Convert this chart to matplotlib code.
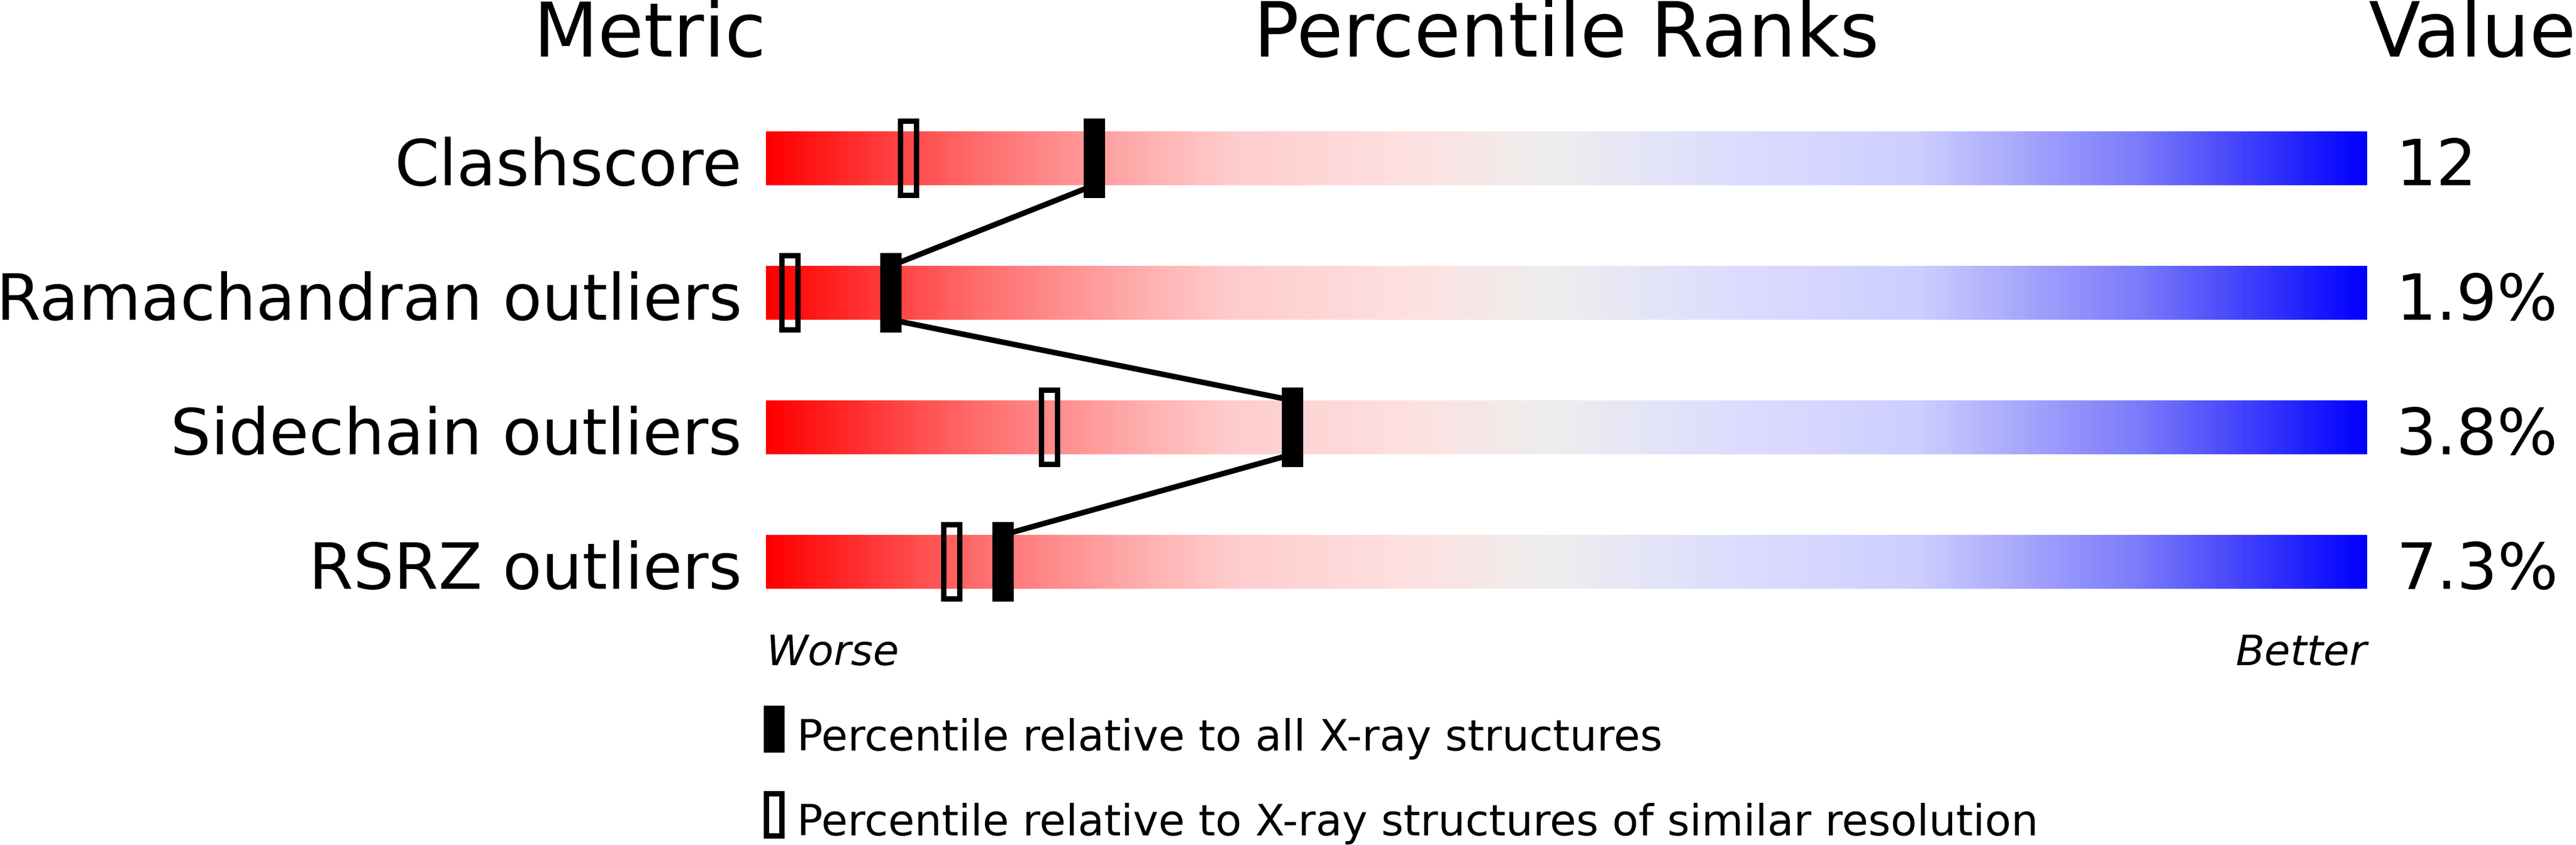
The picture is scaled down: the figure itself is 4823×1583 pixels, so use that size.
import numpy as np
import matplotlib
matplotlib.use("Agg")
import matplotlib.pyplot as plt
from matplotlib.colors import LinearSegmentedColormap
from matplotlib.patches import Rectangle

# 数据
metrics = ["Clashscore", "Ramachandran outliers", "Sidechain outliers", "RSRZ outliers"]
values = ["12", "1.9%", "3.8%", "7.3%"]
pct_all = [20.5, 7.8, 32.9, 14.8]      # 相对所有 X-ray 结构
pct_res = [8.9, 1.5, 17.7, 11.6]       # 相对相似分辨率结构

# 红 -> 灰 -> 蓝 渐变
stops = [
    (0.00, (255, 0, 0)),
    (0.135, (255, 112, 112)),
    (0.237, (255, 176, 176)),
    (0.29, (255, 204, 204)),
    (0.40, (254, 224, 224)),
    (0.49, (238, 238, 238)),
    (0.60, (221, 221, 255)),
    (0.72, (206, 206, 255)),
    (0.86, (122, 122, 250)),
    (1.00, (0, 0, 255)),
]
cmap = LinearSegmentedColormap.from_list(
    "slider", [(p, tuple(c / 255 for c in rgb)) for p, rgb in stops])

W, H = 4823, 1583
fig = plt.figure(figsize=(W / 100, H / 100), dpi=100)
ax = fig.add_axes([1434 / W, 1 - 1178.5 / H, 2998 / W, 1008 / H])
ax.set_xlim(0, 100)
ax.set_ylim(3.5, -0.5)
ax.axis("off")

grad = np.linspace(0, 1, 1024).reshape(1, -1)
bar_h = 0.4
mk_h = 0.595
mk_w = 1.33

for i in range(len(metrics)):
    ax.imshow(grad, cmap=cmap, aspect="auto", interpolation="bilinear",
              extent=(0, 100, i + bar_h / 2, i - bar_h / 2), zorder=1)

# 连接线
rows = np.arange(len(metrics))
for i in range(len(metrics) - 1):
    ax.plot([pct_all[i], pct_all[i + 1]], [rows[i] + bar_h / 2, rows[i + 1] - bar_h / 2],
            color="black", lw=7.5, solid_capstyle="butt", zorder=2)

for i in range(len(metrics)):
    ax.add_patch(Rectangle((pct_all[i] - mk_w / 2, i - mk_h / 2), mk_w, mk_h,
                           facecolor="black", edgecolor="none", zorder=4))
    ax.add_patch(Rectangle((pct_res[i] - (mk_w - 0.33) / 2, i - (mk_h - 0.04) / 2),
                           mk_w - 0.33, mk_h - 0.04, facecolor="none",
                           edgecolor="black", lw=7.2, zorder=3))
    ax.text(-1.5, i + bar_h / 2, metrics[i], ha="right", va="baseline",
            fontsize=86.3, clip_on=False)
    ax.text(101.8, i + bar_h / 2, values[i], ha="left", va="baseline",
            fontsize=86, clip_on=False)

# 表头
ax.text(0, -0.754, "Metric", ha="right", va="baseline", fontsize=101, clip_on=False)
ax.text(50, -0.754, "Percentile Ranks", ha="center", va="baseline", fontsize=102, clip_on=False)
ax.text(0.1 + 100, -0.754, "Value", ha="left", va="baseline", fontsize=102, clip_on=False)

ax.text(0, 3.768, "Worse", ha="left", va="baseline", fontsize=57, style="italic", clip_on=False)
ax.text(100, 3.768, "Better", ha="right", va="baseline", fontsize=57, style="italic", clip_on=False)

# 图例
ax.add_patch(Rectangle((-0.13, 4.068), 1.3, 0.351, facecolor="black",
                       edgecolor="none", clip_on=False))
ax.text(1.95, 4.403, "Percentile relative to all X-ray structures",
        ha="left", va="baseline", fontsize=58, clip_on=False)
ax.add_patch(Rectangle((0.03, 4.723), 0.98, 0.313, facecolor="none",
                       edgecolor="black", lw=7.2, clip_on=False))
ax.text(1.95, 5.034, "Percentile relative to X-ray structures of similar resolution",
        ha="left", va="baseline", fontsize=58, clip_on=False)

fig.savefig("out.png", dpi=100, facecolor="white")
